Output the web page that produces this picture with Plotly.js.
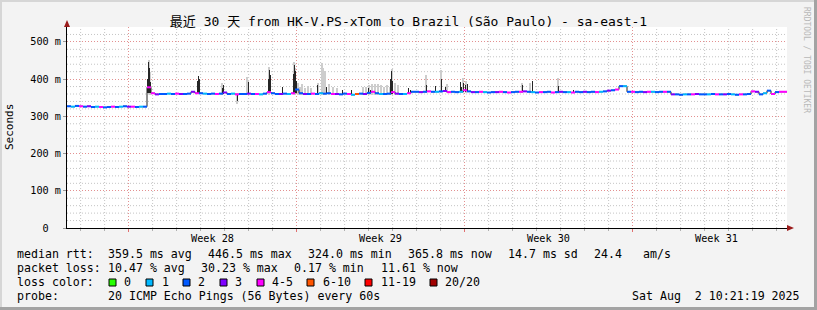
<!DOCTYPE html>
<html>
<head>
<meta charset="utf-8">
<script src="https://cdn.plot.ly/plotly-3.0.1.min.js"></script>
<style>html,body{margin:0;padding:0;background:#f3f3f3;}#chart{width:817px;height:310px;}</style>
</head>
<body>
<div id="chart"></div>
<script>
// ---------------- DATA ----------------
const titleText = "最近 30 天 from HK-V.PS-xTom to Brazil (São Paulo) - sa-east-1";
const startUTC = [2025, 6, 3, 10, 21, 19];   // Thu Jul 3 10:21:19 2025
const endUTC   = [2025, 7, 2, 10, 21, 19];   // Sat Aug 2 10:21:19 2025
const medianStepHours = 4;

// median RTT (ms), one value every 4 hours
const medianMs = [
  327,326,328,327,326,327,325,326,325,324,
  325,326,325,326,327,326,326,325,326,326,
  378,362,359,360,360,361,360,361,360,360,
  361,366,362,362,361,360,361,360,361,364,
  360,361,359,360,360,361,360,360,359,361,
  365,362,360,360,361,360,362,372,362,360,
  360,361,360,362,361,362,360,360,359,361,
  360,358,360,361,360,363,366,362,360,360,
  361,365,361,360,360,362,366,366,365,366,
  367,366,366,367,368,365,366,365,366,370,
  367,365,365,366,365,364,365,365,366,365,
  364,365,366,366,367,366,365,364,365,365,
  366,364,365,366,365,365,364,366,365,366,
  365,366,365,366,367,369,370,372,381,381,
  366,366,365,366,365,366,366,365,366,366,
  366,359,359,358,359,359,359,360,359,359,
  359,360,359,359,359,360,359,358,359,359,
  360,367,366,359,362,369,360,365,366,366
];
// loss class per median sample: 0=0, 1=1, 2=2, 3=3, 4=4-5, 5=6-10, 6=11-19, 7=20/20
const lossClass = [
  2,1,2,4,2,3,2,1,4,2,
  2,4,2,1,2,3,4,2,1,2,
  4,4,3,2,2,1,2,4,3,2,
  2,3,4,2,1,2,2,4,2,3,
  2,1,4,2,2,3,2,4,1,2,
  4,2,2,3,2,1,4,2,2,3,
  2,4,2,1,2,2,4,3,2,2,
  4,1,5,2,3,2,4,2,1,2,
  2,4,3,2,1,4,2,2,3,2,
  4,2,1,2,3,4,2,2,1,4,
  2,3,2,4,1,2,2,3,4,2,
  4,2,2,4,3,2,1,2,4,2,
  2,4,2,3,2,1,4,2,2,3,
  2,2,4,1,2,3,2,4,2,1,
  2,4,2,2,3,4,1,2,2,4,
  2,3,2,2,1,2,4,3,2,2,
  1,2,4,2,3,2,1,2,4,2,
  2,4,3,2,1,2,4,2,4,4
];
const lossLabels = ["0","1","2","3","4-5","6-10","11-19","20/20"];
const lossColors = ["#26ff00","#00b8ff","#0059ff","#7e00ff","#ff00ff","#ff5500","#ff0000","#a10000"];

// dark median spikes: hours since start, low (ms), high (ms)
const spikeHour = [80,81,82,83,130,131,132,155,156,170,181,201,202,203,215,226,227,228,229,250,259,275,284,301,303,323,324,325,341,343,359,368,374,378,393,394,396,398,400,455,465,491,506];
const spikeLow  = [362,362,362,362,361,361,361,361,361,340,360,362,362,362,360,362,362,362,362,360,360,359,358,362,362,361,361,361,362,362,366,366,366,366,366,366,366,366,366,365,365,365,365];
const spikeHigh = [400,446,430,392,396,408,400,376,385,359,392,400,425,410,380,415,438,422,396,384,380,372,372,376,372,400,422,395,376,372,384,381,400,378,393,380,390,385,388,384,396,382,372];

// light smoke (ping spread): hours since start, low (ms), high (ms)
const smokeHour = [82,83,155,170,180,181,202,227,228,231,233,235,238,241,244,251,255,256,257,258,262,266,270,296,299,302,305,308,311,314,317,320,323,325,328,331,359,374,380,396,399,455,463,491];
const smokeLow  = [360,358,358,334,358,358,358,358,358,358,358,358,358,358,358,358,358,358,358,358,358,358,358,358,358,358,358,358,358,358,358,358,358,358,358,358,362,362,362,362,362,362,362,362];
const smokeHigh = [452,420,390,362,405,398,432,446,430,390,378,386,376,381,375,390,442,430,412,421,386,380,375,378,380,383,386,387,388,385,380,384,378,428,390,385,410,424,386,404,396,390,390,402];

const weekLabels = ["Week 28","Week 29","Week 30","Week 31"];
const weekMidUTC = [[2025,6,9,12],[2025,6,16,12],[2025,6,23,12],[2025,6,30,12]];
const weekStartUTC = [[2025,6,6],[2025,6,13],[2025,6,20],[2025,6,27]];
const yTickVals = [0,100,200,300,400,500];
const yTickText = ["0\u00a0\u00a0","100 m","200 m","300 m","400 m","500 m"];

const statRows = [
  {label:"median rtt:", items:["359.5 ms avg","446.5 ms max","324.0 ms min","365.8 ms now","14.7 ms sd","24.4","am/s"]},
  {label:"packet loss:", items:["10.47 % avg","30.23 % max","0.17 % min","11.61 % now"]}
];
const probeText = "20 ICMP Echo Pings (56 Bytes) every 60s";
const stampText = "Sat Aug\u00a0\u00a02 10:21:19 2025";

// ---------------- LAYOUT HELPERS ----------------
const HOUR = 3600000, DAY = 86400000;
const t0 = Date.UTC(...startUTC);
const tEnd = Date.UTC(...endUTC);
const L = 67, R = 787, TOP = 27, BOT = 228;
const PW = R - L, PH = BOT - TOP;
const xp = px => (px - L) / PW;
const yp = py => (BOT - py) / PH;

const statX = [[107,207,307,407,507,593,642],[107,200,293,380]];
const lineY = [254, 268, 282, 296];
const boxX = [109,146,183,220,257,307,365,430];
const boxLabelX = [123,161,197,234,271,322,380,444];

// ---------------- TRACES ----------------
const traces = [];
const hT = h => t0 + h * HOUR;

traces.push({
  type:'bar', x: smokeHour.map(hT), base: smokeLow,
  y: smokeHigh.map((v,i)=>v - smokeLow[i]),
  width: 2*HOUR, marker:{color:'#cdcdcd', line:{width:0}}, hoverinfo:'skip', showlegend:false
});
traces.push({
  type:'bar', x: spikeHour.map(hT), base: spikeLow,
  y: spikeHigh.map((v,i)=>v - spikeLow[i]),
  width: 1.0*HOUR, marker:{color:'#262626', line:{width:0}}, hoverinfo:'skip', showlegend:false
});

const medTimes = medianMs.map((_,i)=> t0 + i*medianStepHours*HOUR);
traces.push({
  type:'scatter', mode:'lines', x: medTimes.concat([tEnd]), y: medianMs.concat([medianMs[medianMs.length-1]]),
  line:{color:'#222222', width:1, shape:'hv'}, hoverinfo:'skip', showlegend:false
});
for (let c = 0; c < lossColors.length; c++) {
  const xs = [], ys = [];
  for (let i = 0; i < medianMs.length; i++) {
    if (lossClass[i] !== c) continue;
    const tn = i + 1 < medianMs.length ? medTimes[i+1] : tEnd;
    xs.push(medTimes[i], tn, null);
    ys.push(medianMs[i], medianMs[i], null);
  }
  if (xs.length) traces.push({
    type:'scatter', mode:'lines', x: xs, y: ys, connectgaps:false,
    line:{color: lossColors[c], width:2}, hoverinfo:'skip', showlegend:false
  });
}
// anchor trace for the major-grid overlay axes
traces.push({type:'scatter', mode:'markers', x:[t0], y:[0], xaxis:'x2', yaxis:'y2', marker:{opacity:0}, hoverinfo:'skip', showlegend:false});

// ---------------- ANNOTATIONS / SHAPES ----------------
const mono = 'DejaVu Sans Mono';
const ann = [];
const txt = (px, py, text, anchor, size) => ann.push({
  xref:'paper', yref:'paper', x: xp(px), y: yp(py), text: text, showarrow:false,
  xanchor: anchor || 'left', yanchor:'middle', borderpad:0,
  font:{family: mono, size: size || 11.6, color:'#000'}
});
statRows.forEach((row, r) => {
  txt(16, lineY[r], row.label);
  row.items.forEach((it, k) => txt(statX[r][k], lineY[r], it));
});
txt(16, lineY[2], "loss color:");
lossLabels.forEach((lab, k) => txt(boxLabelX[k], lineY[2], lab));
txt(16, lineY[3], "probe:");
txt(107, lineY[3], probeText);
txt(801, lineY[3], stampText, 'right');
weekLabels.forEach((w, k) => ann.push({
  xref:'x', yref:'paper', x: Date.UTC(...weekMidUTC[k]), y: yp(238), text: w, showarrow:false,
  xanchor:'center', yanchor:'middle', borderpad:0, font:{family: mono, size:10.2, color:'#000'}
}));
ann.push({xref:'paper', yref:'paper', x: xp(10), y: yp(127), text:'Seconds', textangle:-90, showarrow:false,
  xanchor:'center', yanchor:'middle', font:{family: mono, size:11, color:'#000'}});
ann.push({xref:'paper', yref:'paper', x: xp(807), y: yp(60), text:'RRDTOOL / TOBI OETIKER', textangle:90, showarrow:false,
  xanchor:'center', yanchor:'middle', font:{family: mono, size:8, color:'#b8b8b8'}});

const gridGray = '#c4c4c4', gridRed = '#e39090', dash = '1px,2px';
const shapes = [];
// gray minor grid: every day (vertical) and every 20 ms (horizontal), skipping major positions
const weekStartMs = weekStartUTC.map(a=>Date.UTC(...a));
for (let d = Date.UTC(2025,6,4); d < tEnd; d += DAY) {
  if (weekStartMs.includes(d)) continue;
  shapes.push({type:'line', xref:'x', yref:'paper', x0:d, x1:d, y0:0, y1:1, layer:'below',
    line:{color:gridGray, width:1, dash:dash}});
}
for (let v = 20; v < 540; v += 20) {
  if (v % 100 === 0) continue;
  shapes.push({type:'line', xref:'paper', yref:'y', x0:0, x1:1, y0:v, y1:v, layer:'below',
    line:{color:gridGray, width:1, dash:dash}});
}
lossColors.forEach((col, k) => shapes.push({
  type:'rect', xref:'paper', yref:'paper', x0: xp(boxX[k]), x1: xp(boxX[k]+7), y0: yp(286), y1: yp(279),
  fillcolor: col, line:{color:'#000', width:1}, layer:'above'
}));
// axis arrows
shapes.push({type:'path', xref:'paper', yref:'paper', xsizemode:'pixel', ysizemode:'pixel', xanchor:0, yanchor:1,
  path:'M -3,0 L 3,0 L 0,7 Z', fillcolor:'#9b1c1c', line:{width:0}, layer:'above'});
shapes.push({type:'path', xref:'paper', yref:'paper', xsizemode:'pixel', ysizemode:'pixel', xanchor:1, yanchor:0,
  path:'M 0,3 L 0,-3 L 7,0 Z', fillcolor:'#9b1c1c', line:{width:0}, layer:'above'});
// frame of the image
shapes.push({type:'rect', xref:'paper', yref:'paper', x0: xp(0), x1: xp(817), y0: yp(310), y1: yp(307), fillcolor:'#a3a3a3', line:{width:0}, layer:'above'});
shapes.push({type:'rect', xref:'paper', yref:'paper', x0: xp(814), x1: xp(817), y0: yp(310), y1: yp(0), fillcolor:'#a3a3a3', line:{width:0}, layer:'above'});
shapes.push({type:'rect', xref:'paper', yref:'paper', x0: xp(0), x1: xp(814), y0: yp(2), y1: yp(0), fillcolor:'#d6d6d6', line:{width:0}, layer:'above'});
shapes.push({type:'rect', xref:'paper', yref:'paper', x0: xp(0), x1: xp(2), y0: yp(307), y1: yp(0), fillcolor:'#d6d6d6', line:{width:0}, layer:'above'});

const layout = {
  width: 817, height: 310,
  margin:{l: L, r: 817 - R, t: TOP, b: 310 - BOT, pad: 0},
  paper_bgcolor:'#f3f3f3', plot_bgcolor:'#ffffff',
  showlegend:false, barmode:'overlay', bargap:0,
  title:{text: titleText, x:0.5, xref:'container', y: 1 - 21/310, yref:'container', yanchor:'middle', xanchor:'center',
    font:{family: mono + ', Noto Sans CJK SC', size:13, color:'#000'}},
  // daily ticks (gray)
  xaxis:{
    type:'date', range:[t0, tEnd], tickmode:'linear', tick0: Date.UTC(2025,6,3), dtick: DAY,
    showticklabels:false, ticks:'outside', ticklen:2, tickcolor:'#b0b0b0', tickwidth:1,
    showgrid:false, zeroline:false,
    showline:true, linecolor:'#000', linewidth:1, fixedrange:true
  },
  // week boundaries (red)
  xaxis2:{
    type:'date', range:[t0, tEnd], overlaying:'x', anchor:'y', side:'bottom',
    tickmode:'array', tickvals: weekStartMs, showticklabels:false,
    ticks:'outside', ticklen:3, tickcolor:'#e07070', tickwidth:1,
    showgrid:true, gridcolor: gridRed, griddash: dash, gridwidth:1, zeroline:false, showline:false, fixedrange:true
  },
  yaxis:{
    range:[0, 540], tickmode:'linear', tick0:0, dtick:20, showticklabels:false, ticks:'',
    showgrid:false, zeroline:false,
    showline:true, linecolor:'#000', linewidth:1, fixedrange:true
  },
  // 100 ms major grid (red) with labels
  yaxis2:{
    range:[0, 540], overlaying:'y', anchor:'x', side:'left',
    tickmode:'array', tickvals: yTickVals, ticktext: yTickText,
    tickfont:{family: mono, size:10.2, color:'#000'},
    ticks:'outside', ticklen:3, tickcolor:'#999', tickwidth:1,
    showgrid:true, gridcolor: gridRed, griddash: dash, gridwidth:1, zeroline:false, showline:false, fixedrange:true
  },
  annotations: ann,
  shapes: shapes
};
Plotly.newPlot('chart', traces, layout, {staticPlot:true, displayModeBar:false});
</script>
</body>
</html>
